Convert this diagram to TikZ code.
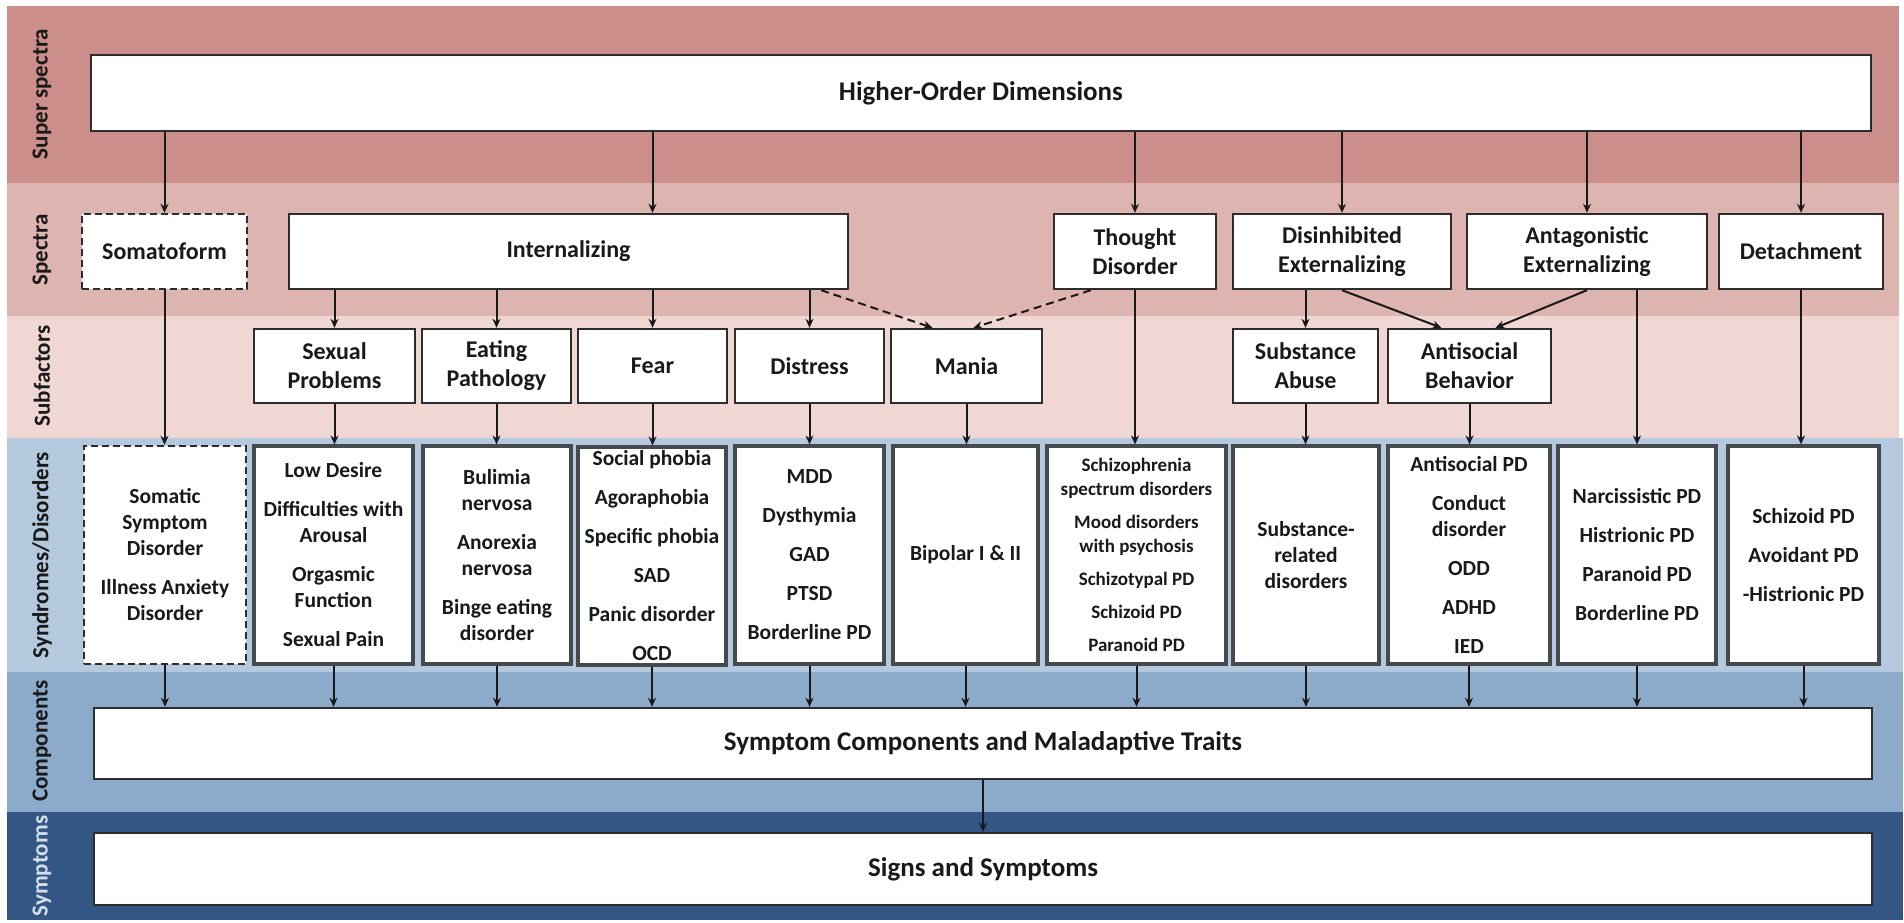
\documentclass[tikz,border=0pt]{standalone}
\usepackage{fontspec}
\setmainfont{Carlito}
\usetikzlibrary{arrows.meta}
\definecolor{bandA}{RGB}{204,142,138}
\definecolor{bandB}{RGB}{221,180,176}
\definecolor{bandC}{RGB}{240,215,211}
\definecolor{bandD}{RGB}{180,201,222}
\definecolor{bandE}{RGB}{140,170,201}
\definecolor{bandF}{RGB}{51,86,132}
\definecolor{ink}{RGB}{25,25,25}
\definecolor{edge}{RGB}{45,45,45}
\definecolor{synedge}{RGB}{70,74,78}
\newcommand\fhod{\fontsize{27}{32}\selectfont\bfseries}
\newcommand\flab{\fontsize{24}{29}\selectfont\bfseries}
\newcommand\fsyn{\fontsize{21.5}{26}\selectfont\bfseries}
\newcommand\fsch{\fontsize{19}{24}\selectfont\bfseries}
\newcommand\fband{\fontsize{23}{23}\selectfont\bfseries}
\begin{document}
\begin{tikzpicture}[x=1pt,y=-1pt,
  box/.style={draw=edge,line width=2.4pt,fill=white,inner sep=0pt,text=ink,align=center},
  topbox/.style={box,font=\fhod},
  spbox/.style={box,font=\flab,minimum height=75pt},
  sfbox/.style={box,font=\flab,minimum height=74pt},
  synbox/.style={box,draw=synedge,line width=3.2pt,font=\fsyn,minimum height=218pt},
  dashbox/.style={dash pattern=on 7pt off 4pt},
  bandlabel/.style={rotate=90,font=\fband,text=ink,inner sep=0pt},
  arr/.style={draw=ink,line width=2pt,-{Stealth[length=9pt,width=8pt]}},
  darr/.style={arr,dash pattern=on 8pt off 5pt}]
\useasboundingbox (0,0) rectangle (1904,922);
% bands
\fill[bandA] (7,6) rectangle (1899,183);
\fill[bandB] (7,183) rectangle (1899,316);
\fill[bandC] (7,316) rectangle (1899,438);
\fill[bandD] (7,438) rectangle (1903,672);
\fill[bandE] (7,672) rectangle (1903,812);
\fill[bandF] (7,812) rectangle (1903,920);
% band labels
\node[bandlabel] (lab1) at (42,94) {Super spectra};
\node[bandlabel] (lab2) at (42,250) {Spectra};
\node[bandlabel] (lab3) at (42,376) {Subfactors};
\node[bandlabel] (lab4) at (42,555) {Syndromes/Disorders};
\node[bandlabel] (lab5) at (42,741) {Components};
\node[bandlabel,text=bandD!60!white] (lab6) at (42,866) {Symptoms};
% super spectra
\node[topbox,minimum width=1780pt,minimum height=76pt] (hod) at (981,93) {Higher-Order Dimensions};
% spectra
\node[spbox,dashbox,minimum width=165pt] (som) at (164.5,251.5) {Somatoform};
\node[spbox,minimum width=559pt] (int) at (568.5,251.5) {Internalizing};
\node[spbox,minimum width=162pt] (tho) at (1135,251.5) {Thought\\Disorder};
\node[spbox,minimum width=218pt] (dis) at (1342,251.5) {Disinhibited\\Externalizing};
\node[spbox,minimum width=240pt] (ant) at (1587,251.5) {Antagonistic\\Externalizing};
\node[spbox,minimum width=164pt] (det) at (1801,251.5) {Detachment};
% subfactors
\node[sfbox,minimum width=161pt] (sex) at (334.5,366) {Sexual\\Problems};
\node[sfbox,minimum width=149pt] (eat) at (496.5,366) {Eating\\Pathology};
\node[sfbox,minimum width=149pt] (fear) at (652.5,366) {Fear};
\node[sfbox,minimum width=149pt] (dist) at (809.5,366) {Distress};
\node[sfbox,minimum width=151pt] (mania) at (966.5,366) {Mania};
\node[sfbox,minimum width=145pt] (sa) at (1305.5,366) {Substance\\Abuse};
\node[sfbox,minimum width=163pt] (ab) at (1469.5,366) {Antisocial\\Behavior};
% syndromes / disorders
\node[synbox,draw=edge,line width=2.4pt,dashbox,minimum width=162pt] (somd) at (165,555) {Somatic\\Symptom\\Disorder\\[13pt]Illness Anxiety\\Disorder};
\node[synbox,minimum width=159pt] (lowd) at (333.5,555) {Low Desire\\[13pt]Difficulties with\\Arousal\\[13pt]Orgasmic\\Function\\[13pt]Sexual Pain};
\node[synbox,minimum width=148pt] (bul) at (497,555) {Bulimia\\nervosa\\[13pt]Anorexia\\nervosa\\[13pt]Binge eating\\disorder};
\node[synbox,minimum width=148pt] (soc) at (652,556) {Social phobia\\[13pt]Agoraphobia\\[13pt]Specific phobia\\[13pt]SAD\\[13pt]Panic disorder\\[13pt]OCD};
\node[synbox,minimum width=149pt] (mdd) at (809.5,555) {MDD\\[13pt]Dysthymia\\[13pt]GAD\\[13pt]PTSD\\[13pt]Borderline PD};
\node[synbox,minimum width=145pt] (bip) at (965.5,555) {Bipolar I \& II};
\node[synbox,font=\fsch,minimum width=179pt] (sch) at (1136.5,555) {Schizophrenia\\spectrum disorders\\[9pt]Mood disorders\\with psychosis\\[9pt]Schizotypal PD\\[9pt]Schizoid PD\\[9pt]Paranoid PD};
\node[synbox,minimum width=146pt] (subr) at (1306,555) {Substance-\\related\\disorders};
\node[synbox,minimum width=162pt] (apd) at (1469,555) {Antisocial PD\\[13pt]Conduct\\disorder\\[13pt]ODD\\[13pt]ADHD\\[13pt]IED};
\node[synbox,minimum width=158pt] (narc) at (1637,555) {Narcissistic PD\\[13pt]Histrionic PD\\[13pt]Paranoid PD\\[13pt]Borderline PD};
\node[synbox,minimum width=151pt] (schd) at (1803.5,555) {Schizoid PD\\[13pt]Avoidant PD\\[13pt]-Histrionic PD};
% components and symptoms
\node[topbox,minimum width=1778pt,minimum height=71pt] (comp) at (983,743.5) {Symptom Components and Maladaptive Traits};
\node[topbox,minimum width=1778pt,minimum height=72pt] (sign) at (983,869) {Signs and Symptoms};
% higher-order -> spectra
\draw[arr] (hod.south -| som.north) -- (som.north);
\draw[arr] (hod.south -| fear.north) -- (int.north -| fear.north);
\draw[arr] (hod.south -| tho.north) -- (tho.north);
\draw[arr] (hod.south -| dis.north) -- (dis.north);
\draw[arr] (hod.south -| ant.north) -- (ant.north);
\draw[arr] (hod.south -| det.north) -- (det.north);
% spectra -> subfactors
\draw[arr] (int.south -| sex.north) -- (sex.north);
\draw[arr] (int.south -| eat.north) -- (eat.north);
\draw[arr] (int.south -| fear.north) -- (fear.north);
\draw[arr] (int.south -| dist.north) -- (dist.north);
\draw[darr] ([xshift=-28pt]int.south east) -- ([xshift=-34pt]mania.north);
\draw[darr] ([xshift=38pt]tho.south west) -- ([xshift=7pt]mania.north);
\draw[arr] (dis.south -| sa.north) -- (sa.north);
\draw[arr] (dis.south) -- ([xshift=-28pt]ab.north);
\draw[arr] (ant.south) -- ([xshift=26pt]ab.north);
% spectra / subfactors -> syndromes
\draw[arr] (som.south) -- (som.south |- somd.north);
\draw[arr] (sex.south) -- (sex.south |- lowd.north);
\draw[arr] (eat.south) -- (eat.south |- bul.north);
\draw[arr] (fear.south) -- (fear.south |- soc.north);
\draw[arr] (dist.south) -- (dist.south |- mdd.north);
\draw[arr] (mania.south) -- (mania.south |- bip.north);
\draw[arr] (tho.south) -- (tho.south |- sch.north);
\draw[arr] (sa.south) -- (sa.south |- subr.north);
\draw[arr] (ab.south) -- (ab.south |- apd.north);
\draw[arr] (ant.south -| narc.north) -- (narc.north);
\draw[arr] (det.south) -- (det.south |- schd.north);
% syndromes -> components
\foreach \s in {somd,lowd,bul,soc,mdd,bip,sch,subr,apd,narc,schd}
  \draw[arr] (\s.south) -- (\s.south |- comp.north);
\draw[arr] (comp.south) -- (sign.north);
\end{tikzpicture}
\end{document}
